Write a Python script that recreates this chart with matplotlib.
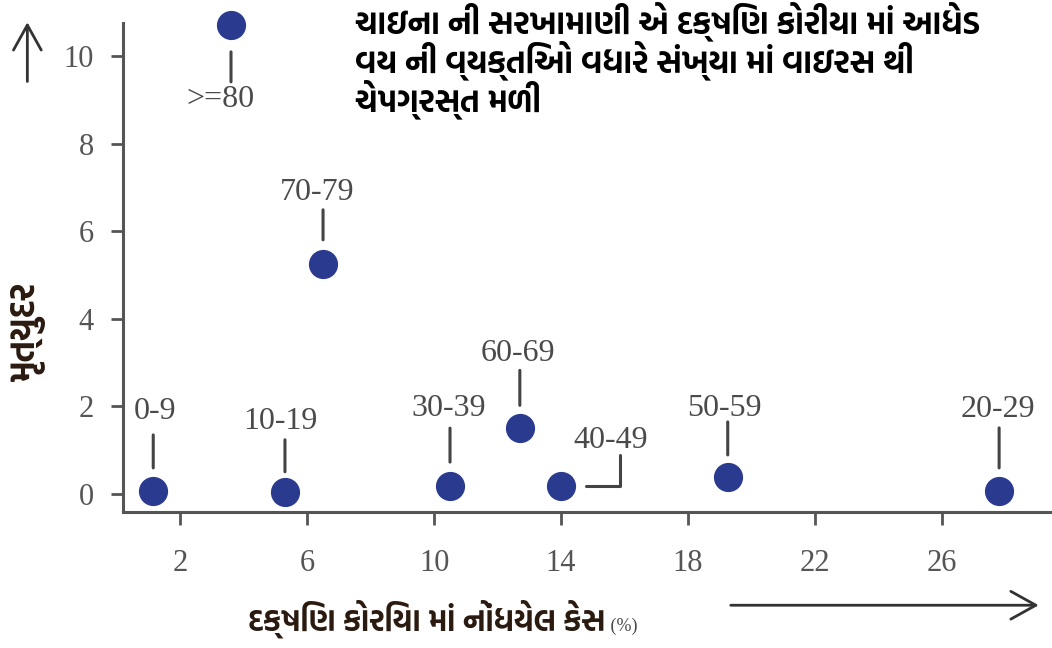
import matplotlib
matplotlib.use("Agg")
import matplotlib.pyplot as plt
from matplotlib.patches import FancyArrowPatch

# age groups with share of South Korea cases (%) and death rate
age_groups = ["0-9", "10-19", "20-29", "30-39", "40-49", "50-59", "60-69", "70-79", ">=80"]
case_share = [1.15, 5.3, 27.8, 10.5, 14.0, 19.25, 12.7, 6.5, 3.6]
death_rate = [0.07, 0.05, 0.07, 0.18, 0.18, 0.39, 1.5, 5.26, 10.72]

x_ticks = [2, 6, 10, 14, 18, 22, 26]
y_ticks = [0, 2, 4, 6, 8, 10]

title_lines = [
    "ચાઇના ની સરખામાણી એ દક્ષિણ કોરીયા માં આધેડ",
    "વય ની વ્યક્તિઓ વધારે સંખ્યા માં વાઇરસ થી",
    "ચેપગ્રસ્ત મળી",
]
y_label = "મૃત્યુદર"
x_label = "દક્ષિણ કોરિયા માં નોંધયેલ કેસ"

# label layout: (text dx, text dy, line far end dy, gap near point) in pixels
label_layout = {
    "0-9": (2, 79, 56, 23),
    "10-19": (-5, 70, 52, 20),
    "20-29": (-1, 81, 63, 23),
    "30-39": (-1, 78, 58, 24),
    "50-59": (-3, 68, 55, 22),
    "60-69": (-2, 75, 58, 23),
    "70-79": (-6, 71, 54, 24),
    ">=80": (-11, -75, -57, 27),
}

guj = ["Hind Vadodara", "DejaVu Sans"]
serif = ["Liberation Serif", "DejaVu Serif"]
point_color = "#2a3b8f"
text_color = "#4a4a4a"
axis_color = "#555555"

fig = plt.figure(figsize=(10.52, 6.48), dpi=100)
ax = fig.add_axes([0.117, 0.21, 0.881, 0.755])

ax.scatter(case_share, death_rate, s=400, color=point_color, zorder=3, clip_on=False)

px_to_pt = 0.72
for name, x, y in zip(age_groups, case_share, death_rate):
    if name == "40-49":
        # bent leader line for this one
        ax.annotate(name, xy=(x, y), xytext=(50, 46), textcoords="offset pixels",
                    ha="center", va="center", fontsize=23, color=text_color, family=serif)
        ax.annotate("", xy=(x, y), xytext=(59, 31), textcoords="offset pixels",
                    arrowprops=dict(arrowstyle="-", color="#444444", lw=2.2,
                                    shrinkA=0, shrinkB=25 * px_to_pt,
                                    connectionstyle="angle,angleA=-90,angleB=0,rad=0"))
        continue
    tdx, tdy, line_end, gap = label_layout[name]
    ax.annotate(name, xy=(x, y), xytext=(tdx, tdy), textcoords="offset pixels",
                ha="center", va="center", fontsize=23, color=text_color, family=serif)
    ax.annotate("", xy=(x, y), xytext=(0, line_end), textcoords="offset pixels",
                arrowprops=dict(arrowstyle="-", color="#444444", lw=2.2,
                                shrinkA=0, shrinkB=gap * px_to_pt))

ax.set_xlim(0.2, 29.4)
ax.set_ylim(-0.41, 10.77)
ax.set_xticks(x_ticks)
ax.set_yticks(y_ticks)
ax.set_xticklabels([str(t) for t in x_ticks], family=serif, fontsize=22, color=axis_color)
ax.set_yticklabels([str(t) for t in y_ticks], family=serif, fontsize=22, color=axis_color)
ax.tick_params(axis="both", length=9, width=2, color=axis_color, direction="out")
ax.tick_params(axis="x", pad=18)
ax.tick_params(axis="y", pad=12)
for side in ["top", "right"]:
    ax.spines[side].set_visible(False)
for side in ["left", "bottom"]:
    ax.spines[side].set_color(axis_color)
    ax.spines[side].set_linewidth(2.2)

fig.text(0.337, 0.998, "\n".join(title_lines), ha="left", va="top", fontsize=23,
         fontweight="bold", color="black", family=guj, linespacing=0.98)

fig.text(0.026, 0.49, y_label, rotation=90, ha="center", va="center", fontsize=25,
         fontweight="bold", color="#2a1a10", family=guj)
xl = fig.text(0.236, 0.045, x_label, ha="left", va="center", fontsize=22,
              fontweight="bold", color="#2a1a10", family=guj)
fig.add_artist(matplotlib.text.Annotation(" (%)", xy=(1, 0.3), xycoords=xl, ha="left", va="center",
                                          fontsize=13, color=text_color, family=serif))

# direction arrows
fig.add_artist(FancyArrowPatch((0.026, 0.87), (0.026, 0.97), transform=fig.transFigure,
                               arrowstyle="->,head_length=0.9,head_width=0.5",
                               mutation_scale=20, color="#333333", lw=2))
fig.add_artist(FancyArrowPatch((0.692, 0.066), (0.99, 0.066), transform=fig.transFigure,
                               arrowstyle="->,head_length=0.9,head_width=0.5",
                               mutation_scale=20, color="#333333", lw=2))

fig.savefig("out.png", dpi=100, facecolor="white")
